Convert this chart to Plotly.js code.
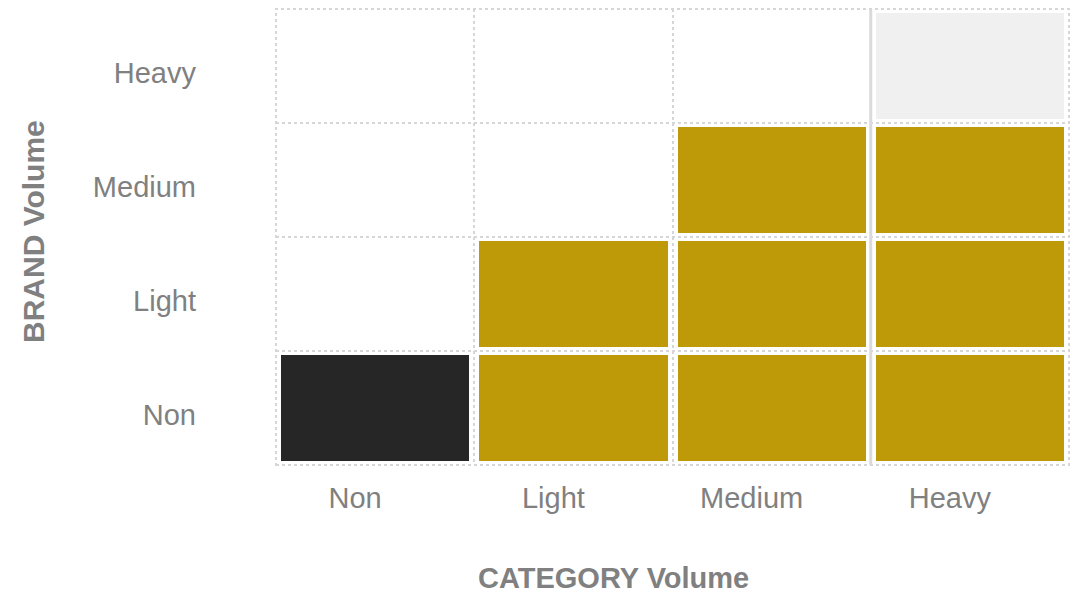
<!DOCTYPE html>
<html>
<head>
<meta charset="utf-8">
<script src="https://cdn.plot.ly/plotly-3.0.1.min.js"></script>
<style>html,body{margin:0;padding:0;background:#fff;}#chart{width:1081px;height:596px;}</style>
</head>
<body>
<div id="chart"></div>
<script>
// Categories
var categoryVolume = ['Non', 'Light', 'Medium', 'Heavy'];   // x axis
var brandVolume = ['Non', 'Light', 'Medium', 'Heavy'];      // y axis (bottom to top)
// Cell states: null = empty, 1 = gold, 2 = dark, 3 = light grey
var rowNon    = [2, 1, 1, 1];
var rowLight  = [null, 1, 1, 1];
var rowMedium = [null, null, 1, 1];
var rowHeavy  = [null, null, null, 3];

var z = [rowNon, rowLight, rowMedium, rowHeavy];

var gold = '#BE9A08', dark = '#262626', lightGrey = '#F0F0F0', txt = '#808080';
var gridCol = '#d6d6d6';

var trace = {
  type: 'heatmap',
  x: categoryVolume,
  y: brandVolume,
  z: z,
  zmin: 1, zmax: 3,
  colorscale: [[0, gold], [0.5, dark], [1, lightGrey]],
  showscale: false,
  xgap: 10, ygap: 8,
  hoverinfo: 'x+y'
};

var layout = {
  width: 1081, height: 596,
  margin: {l: 276, r: 12, t: 9, b: 131},
  paper_bgcolor: '#ffffff', plot_bgcolor: '#ffffff',
  font: {family: '"Liberation Sans", Arial, sans-serif', color: txt, size: 29},
  showlegend: false,
  xaxis: {
    type: 'category', tickson: 'boundaries', showgrid: true,
    gridcolor: gridCol, gridwidth: 2, griddash: 'dot',
    showline: false, zeroline: false, ticks: '',
    ticklabelstandoff: 13, ticklabelshift: -20,
    tickfont: {size: 29, color: txt},
    range: [-0.5, 3.5], fixedrange: true
  },
  yaxis: {
    type: 'category', tickson: 'boundaries', showgrid: true,
    gridcolor: gridCol, gridwidth: 2, griddash: 'dot',
    showline: false, zeroline: false, ticks: '',
    ticklabelstandoff: 79, ticklabelshift: 7,
    tickfont: {size: 29, color: txt},
    range: [-0.5, 3.5], fixedrange: true
  },
  shapes: [
    {type: 'rect', xref: 'paper', yref: 'paper', x0: 0, x1: 1, y0: 0, y1: 1,
     line: {color: gridCol, width: 2, dash: 'dot'}, fillcolor: 'rgba(0,0,0,0)', layer: 'above'},
    {type: 'line', xref: 'x', yref: 'paper', x0: 2.5, x1: 2.5, y0: 0, y1: 1,
     line: {color: '#dadada', width: 3}, layer: 'above'}
  ],
  annotations: [
    {text: '<b>CATEGORY Volume</b>', xref: 'paper', yref: 'paper', x: (613-276)/793, y: (465-578)/456,
     showarrow: false, xanchor: 'center', yanchor: 'middle', borderpad: 0, font: {size: 29, color: txt}},
    {text: '<b>BRAND Volume</b>', xref: 'paper', yref: 'paper', x: (33-276)/793, y: (465-232)/456,
     showarrow: false, xanchor: 'center', yanchor: 'middle', borderpad: 0, textangle: -90, font: {size: 30, color: txt}}
  ]
};

Plotly.newPlot('chart', [trace], layout, {displayModeBar: false, staticPlot: true});
</script>
</body>
</html>
